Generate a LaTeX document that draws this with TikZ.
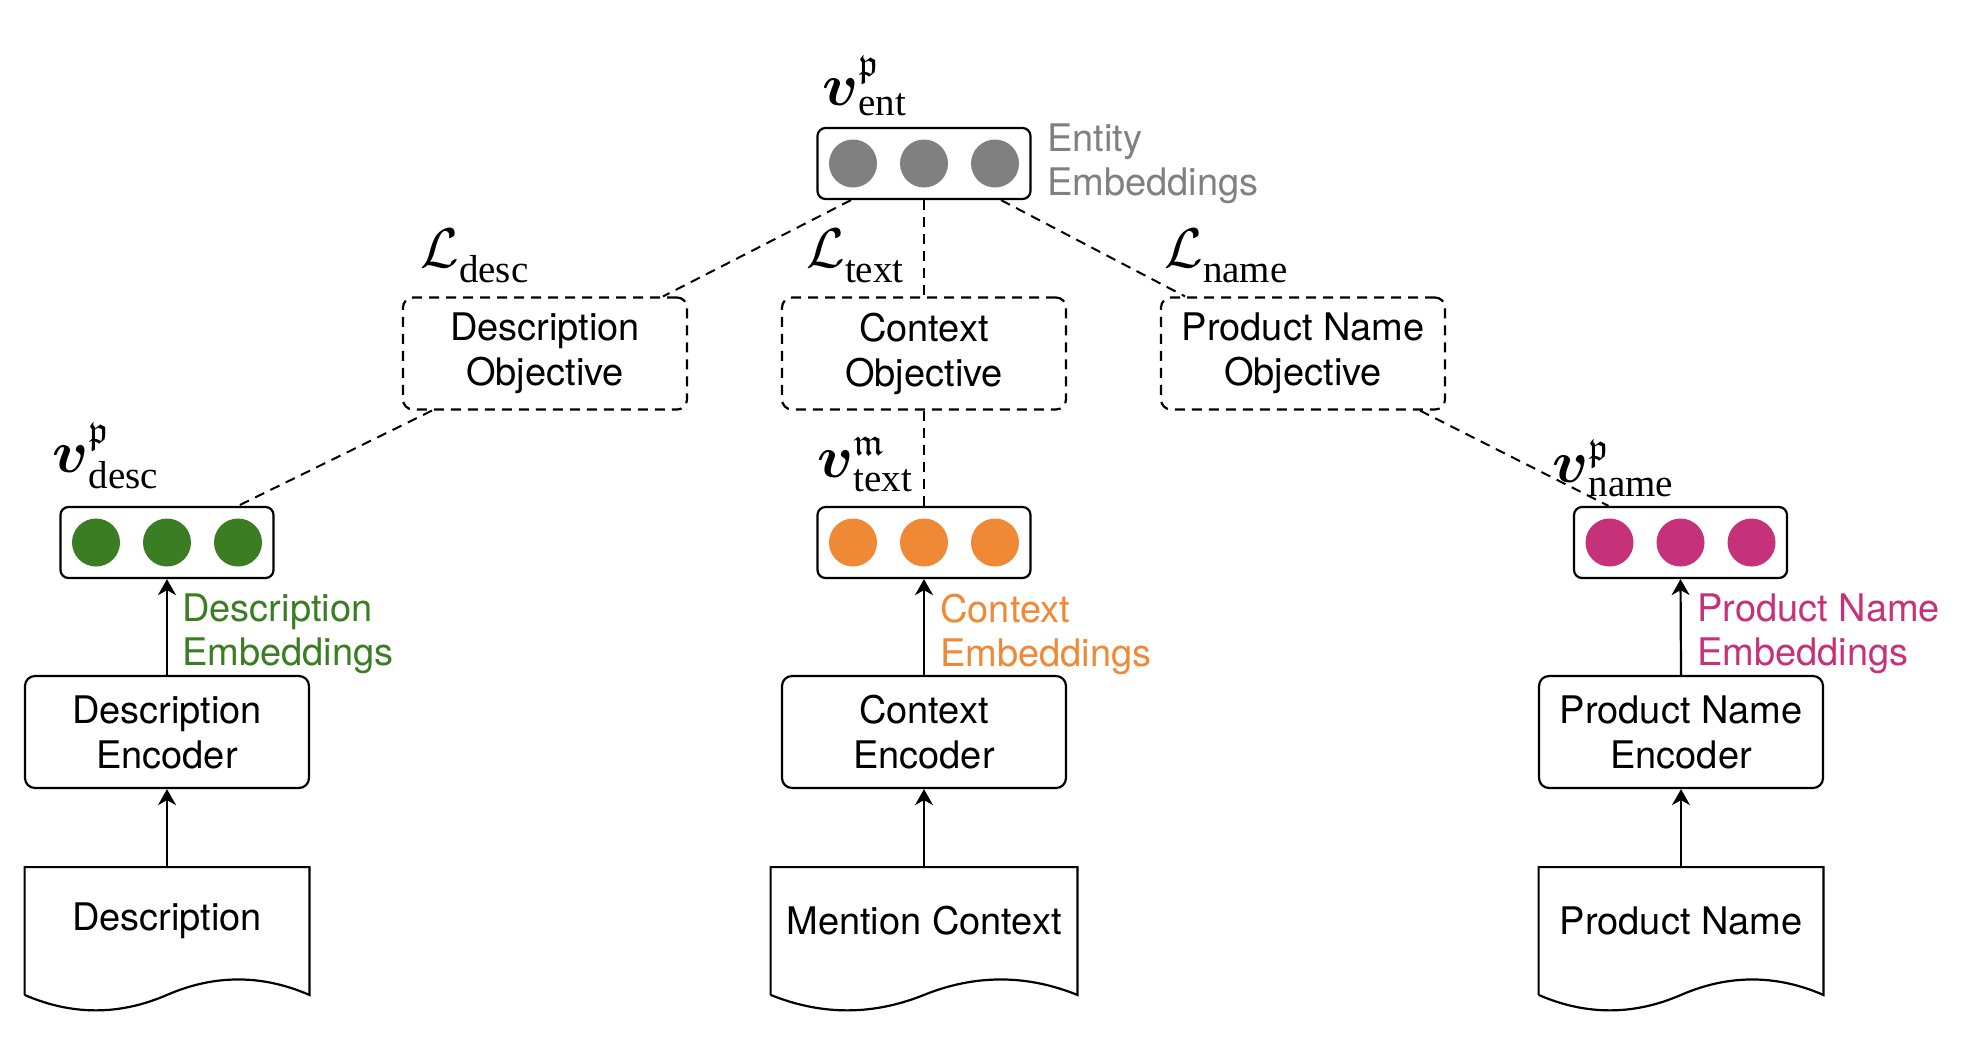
\RequirePackage{fix-cm}
\documentclass[tikz,border=0pt]{standalone}
\usepackage{amsmath,amssymb}
\usepackage{fontspec}
\setmainfont{Liberation Serif}
\setsansfont{TeX Gyre Heros}
\usetikzlibrary{arrows.meta,calc}
\definecolor{cgreen}{HTML}{3A7D22}
\definecolor{corange}{HTML}{EF8936}
\definecolor{cmagenta}{HTML}{C6327A}
\definecolor{cgray}{HTML}{808080}
\DeclareMathSizes{30}{30}{19.5}{14}
\DeclareMathSizes{28}{28}{19.5}{14}
\newcommand{\lowsub}[1]{\text{\raisebox{-3.5pt}{#1}}}
\tikzset{
  lw/.style={line width=1.1pt},
  enc/.style={draw, lw, rounded corners=5pt, minimum width=142pt, minimum height=56pt,
    inner sep=0pt, align=center, font=\sffamily\fontsize{19}{22.5}\selectfont},
  obj/.style={enc, dash pattern=on 5pt off 3.5pt},
  vecbox/.style={draw, lw, rounded corners=4pt, minimum width=106.5pt, minimum height=35.5pt, inner sep=0pt},
  dot/.style={circle, inner sep=0pt, minimum size=24pt},
  docnode/.style={minimum width=142pt, minimum height=53.5pt, inner sep=0pt,
    font=\sffamily\fontsize{19}{22.5}\selectfont},
  emb/.style={anchor=west, align=left, inner sep=0pt, font=\sffamily\fontsize{19}{22}\selectfont},
  vlab/.style={anchor=base west, inner sep=0pt, font=\fontsize{30}{34}\selectfont},
  llab/.style={anchor=base west, inner sep=0pt, font=\fontsize{28}{32}\selectfont},
  arr/.style={lw, -{Stealth[length=8pt,width=9pt,inset=2.5pt]}},
  dl/.style={line width=1pt, dash pattern=on 5pt off 3.5pt},
}
\newcommand{\docoutline}[1]{%
  \draw[lw] ($(#1.south west)+(0,-10pt)$) -- (#1.north west) -- (#1.north east) -- ($(#1.south east)+(0,-10pt)$)
    .. controls ($(#1.south east)!0.1667!(#1.south west)+(0,0.3pt)$) and ($(#1.south east)!0.3333!(#1.south west)+(0,0.3pt)$) .. ($(#1.south)+(0,-10pt)$)
    .. controls ($(#1.south east)!0.6667!(#1.south west)+(0,-20.3pt)$) and ($(#1.south east)!0.8333!(#1.south west)+(0,-20.3pt)$) .. ($(#1.south west)+(0,-10pt)$);}
\begin{document}
\begin{tikzpicture}[x=0.5pt,y=-0.5pt]
\useasboundingbox (0,0) rectangle (1962,1040);

% entity embeddings
\node[vecbox] (ent) at (924,163.5) {};
\node[dot, fill=cgray] (ent1) at ($(ent)+(-71,0)$) {};
\node[dot, fill=cgray] (ent2) at (ent) {};
\node[dot, fill=cgray] (ent3) at ($(ent)+(71,0)$) {};
\node[emb, text=cgray] (entlab) at (1047,164) {Entity\\Embeddings};
\node[vlab] (vent) at (822,105) {$\boldsymbol{v}^{\mathfrak{p}}_{\text{ent}}$};

% objectives
\node[obj] (dobj) at (545,353.5) {Description\\Objective};
\node[obj] (cobj) at (924,353.5) {Context\\Objective};
\node[obj] (pobj) at (1303,353.5) {Product Name\\Objective};
\node[llab] (ldesc) at (420,267) {$\mathcal{L}_{\lowsub{desc}}$};
\node[llab] (ltext) at (806,267) {$\mathcal{L}_{\lowsub{text}}$};
\node[llab] (lname) at (1164,267) {$\mathcal{L}_{\lowsub{name}}$};

% vectors
\node[vecbox] (dvec) at (167,542.5) {};
\node[dot, fill=cgreen] (dv1) at ($(dvec)+(-71,0)$) {};
\node[dot, fill=cgreen] (dv2) at (dvec) {};
\node[dot, fill=cgreen] (dv3) at ($(dvec)+(71,0)$) {};
\node[vecbox] (cvec) at (924,542.5) {};
\node[dot, fill=corange] (cv1) at ($(cvec)+(-71,0)$) {};
\node[dot, fill=corange] (cv2) at (cvec) {};
\node[dot, fill=corange] (cv3) at ($(cvec)+(71,0)$) {};
\node[vecbox] (pvec) at (1680.5,542.5) {};
\node[dot, fill=cmagenta] (pv1) at ($(pvec)+(-71,0)$) {};
\node[dot, fill=cmagenta] (pv2) at (pvec) {};
\node[dot, fill=cmagenta] (pv3) at ($(pvec)+(71,0)$) {};
\node[vlab] (vdesc) at (52,472) {$\boldsymbol{v}^{\mathfrak{p}}_{\text{desc}}$};
\node[vlab] (vtext) at (817,477) {$\boldsymbol{v}^{\mathfrak{m}}_{\text{text}}$};
\node[vlab] (vname) at (1552,482) {$\boldsymbol{v}^{\mathfrak{p}}_{\text{name}}$};

% encoders
\node[enc] (denc) at (167,732) {Description\\Encoder};
\node[enc] (cenc) at (924,732) {Context\\Encoder};
\node[enc] (penc) at (1681,732) {Product Name\\Encoder};

% embedding labels
\node[emb, text=cgreen] (demb) at (182,634) {Description\\Embeddings};
\node[emb, text=corange] (cemb) at (940,634) {Context\\Embeddings};
\node[emb, text=cmagenta] (pemb) at (1697,634) {Product Name\\Embeddings};

% documents
\node[docnode] (ddoc) at (167,921) {Description};
\node[docnode, minimum width=153pt] (cdoc) at (924,921) {Mention Context};
\node[docnode] (pdoc) at (1681,921) {Product Name};
\docoutline{ddoc}
\docoutline{cdoc}
\docoutline{pdoc}

% arrows
\draw[arr] (ddoc.north) -- (denc.south);
\draw[arr] (denc.north) -- (dvec.south);
\draw[arr] (cdoc.north) -- (cenc.south);
\draw[arr] (cenc.north) -- (cvec.south);
\draw[arr] (pdoc.north) -- (penc.south);
\draw[arr] (penc.north) -- (pvec.south);

% dashed connectors
\draw[dl] ($(ent.south)+(-73,0)$) -- ($(dobj.north)+(118,0)$);
\draw[dl] (ent.south) -- (cobj.north);
\draw[dl] ($(ent.south)+(77,0)$) -- ($(pobj.north)+(-118,0)$);
\draw[dl] ($(dobj.south)+(-113,0)$) -- ($(dvec.north)+(71,0)$);
\draw[dl] (cobj.south) -- (cvec.north);
\draw[dl] ($(pobj.south)+(117,0)$) -- ($(pvec.north)+(-72,0)$);
\end{tikzpicture}
\end{document}
